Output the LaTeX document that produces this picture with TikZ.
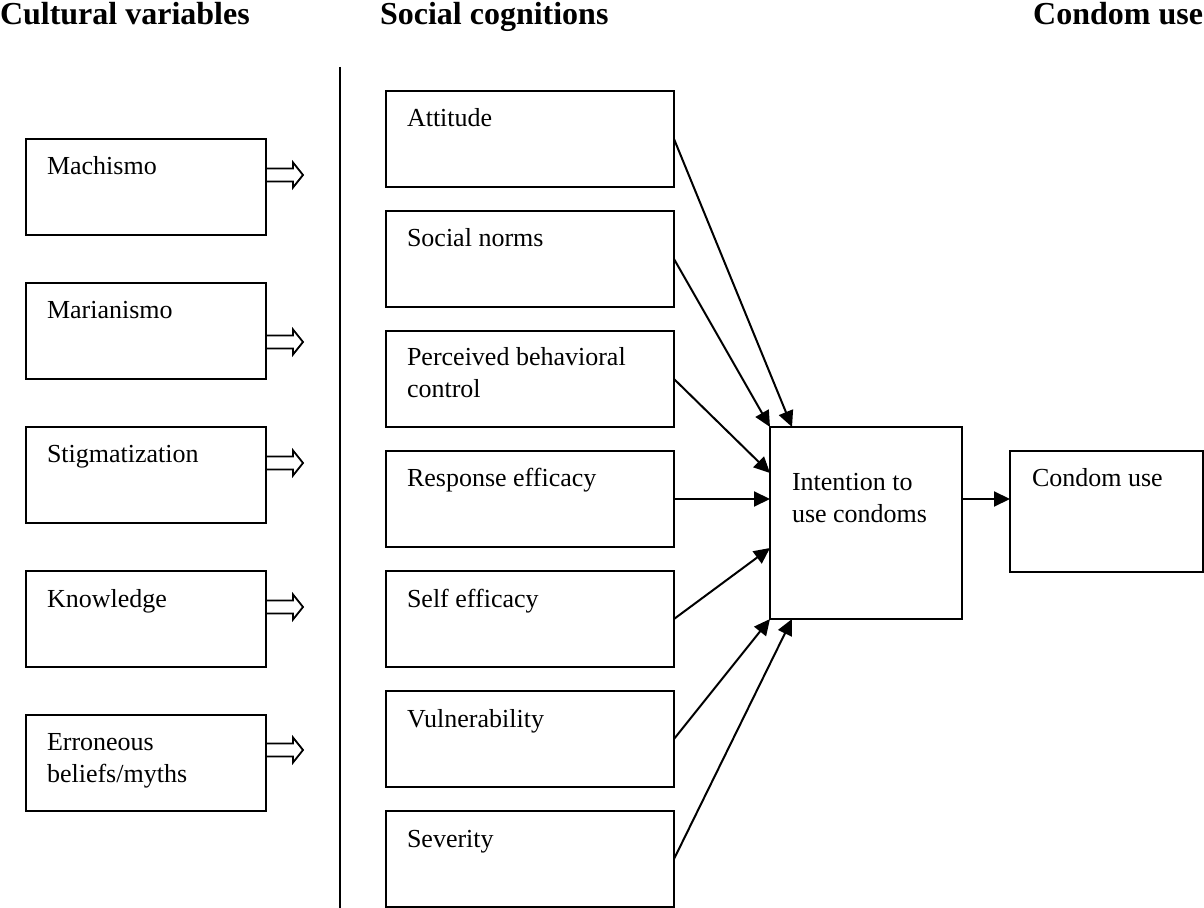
\documentclass[tikz,border=0pt]{standalone}
\usepackage{fontspec}
\setmainfont{Liberation Serif}
\usetikzlibrary{arrows.meta,calc}
\begin{document}
\begin{tikzpicture}[x=0.5pt,y=-0.5pt,
  every node/.style={inner sep=0pt,outer sep=0pt},
  box/.style={draw,line width=1pt,rectangle,anchor=north west},
  lbox/.style={box,minimum width=120pt,minimum height=48pt},
  mbox/.style={box,minimum width=144pt,minimum height=48pt},
  lbl/.style={anchor=base west,align=left,font=\fontsize{13}{16}\selectfont},
  hdr/.style={font=\fontsize{16}{19}\selectfont\bfseries},
  conn/.style={line width=1pt,-{Triangle[length=8pt,width=7.5pt]}},
  hollow/.style={line width=0.9pt,line join=miter}
]
\useasboundingbox (0,0) rectangle (1204,908);

% headers
\node[hdr,anchor=base west] (h1) at (0,25) {Cultural variables};
\node[hdr,anchor=base west] (h2) at (380,25) {Social cognitions};
\node[hdr,anchor=base east] (h3) at (1203,25) {Condom use};

% divider
\coordinate (d1) at (340,67);
\coordinate (d2) at (340,908);
\draw[line width=1pt] (d1) -- (d2);

% left boxes
\node[lbox] (mach) at (26,139) {};
\node[lbox] (mari) at (26,283) {};
\node[lbox] (stig) at (26,427) {};
\node[lbox] (know) at (26,571) {};
\node[lbox] (erro) at (26,715) {};
\node[lbl] (tmach) at ($(mach.north west)+(21,36)$) {Machismo};
\node[lbl] (tmari) at ($(mari.north west)+(21,36)$) {Marianismo};
\node[lbl] (tstig) at ($(stig.north west)+(21,36)$) {Stigmatization};
\node[lbl] (tknow) at ($(know.north west)+(21,36)$) {Knowledge};
\node[lbl] (terro) at ($(erro.north west)+(21,67)$) {Erroneous\\beliefs/myths};

% hollow arrows
\newcommand\harrow[1]{%
  \draw[hollow] (#1) ++(0,-6.5) -- ++(27,0) -- ++(0,-6) -- ++(10,12.5)
     -- ++(-10,12.5) -- ++(0,-6) -- ++(-27,0);}
\coordinate (amach) at ($(mach.north east)+(0,36)$);
\coordinate (amari) at ($(mari.north east)+(0,59)$);
\coordinate (astig) at ($(stig.north east)+(0,36)$);
\coordinate (aknow) at ($(know.north east)+(0,36)$);
\coordinate (aerro) at ($(erro.north east)+(0,35)$);
\harrow{amach}
\harrow{amari}
\harrow{astig}
\harrow{aknow}
\harrow{aerro}

% middle boxes
\node[mbox] (att) at (386,91) {};
\node[mbox] (soc) at (386,211) {};
\node[mbox] (per) at (386,331) {};
\node[mbox] (res) at (386,451) {};
\node[mbox] (slf) at (386,571) {};
\node[mbox] (vul) at (386,691) {};
\node[mbox] (sev) at (386,811) {};
\node[lbl] (tatt) at ($(att.north west)+(21,36)$) {Attitude};
\node[lbl] (tsoc) at ($(soc.north west)+(21,36)$) {Social norms};
\node[lbl] (tper) at ($(per.north west)+(21,67)$) {Perceived behavioral\\control};
\node[lbl] (tres) at ($(res.north west)+(21,36)$) {Response efficacy};
\node[lbl] (tslf) at ($(slf.north west)+(21,36)$) {Self efficacy};
\node[lbl] (tvul) at ($(vul.north west)+(21,36)$) {Vulnerability};
\node[lbl] (tsev) at ($(sev.north west)+(21,36)$) {Severity};

% intention and condom use
\node[box,minimum width=96pt,minimum height=96pt] (int) at (770,427) {};
\node[lbl] (tint) at ($(int.north west)+(22,96)$) {Intention to\\use condoms};
\node[box,minimum width=96.5pt,minimum height=60.5pt] (cond) at (1010,451) {};
\node[lbl] (tcond) at ($(cond.north west)+(22,36)$) {Condom use};

% connectors
\draw[conn] (att.east) -- ($(int.north west)+(22,0)$);
\draw[conn] (soc.east) -- (int.north west);
\draw[conn] (per.east) -- ($(int.north west)+(0,46)$);
\draw[conn] (res.east) -- (int.west |- res.east);
\draw[conn] (slf.east) -- ($(int.north west)+(0,121)$);
\draw[conn] (vul.east) -- (int.south west);
\draw[conn] (sev.east) -- ($(int.south west)+(22,0)$);
\draw[conn] (int.east |- res.east) -- (cond.west |- res.east);
\end{tikzpicture}
\end{document}
